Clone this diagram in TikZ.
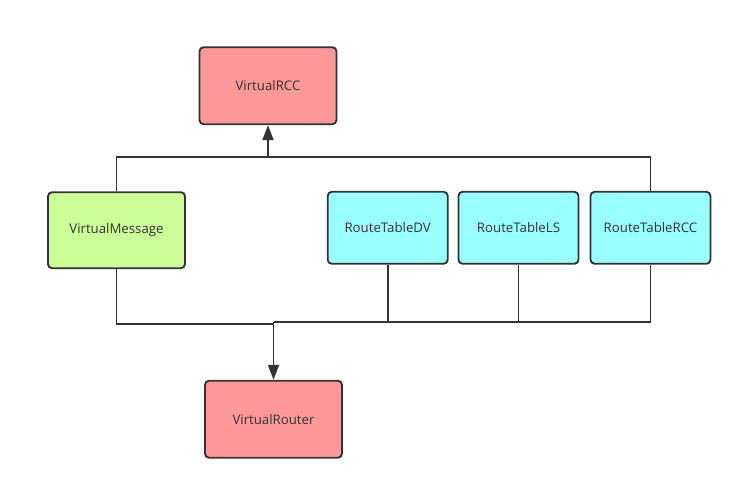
\documentclass[tikz,border=0pt]{standalone}
\usepackage{fontspec}
\setmainfont{Open Sans}
\usetikzlibrary{arrows.meta,shapes}
\definecolor{linegray}{HTML}{333333}
\definecolor{corepink}{HTML}{FF9999}
\definecolor{msggreen}{HTML}{CCFF99}
\definecolor{tabcyan}{HTML}{99FFFF}
\tikzset{
    unitbox/.style={draw=linegray,line width=1.6pt,rounded corners=3.5pt,text=linegray,
        font=\fontsize{11.3}{13}\selectfont,inner sep=0pt},
    corebox/.style={unitbox,fill=corepink,minimum width=4.11cm,minimum height=2.31cm},
    msgbox/.style={unitbox,fill=msggreen,minimum width=4.11cm,minimum height=2.28cm},
    tabbox/.style={unitbox,fill=tabcyan,minimum width=3.6cm,minimum height=2.16cm},
    link/.style={draw=linegray,line width=1.6pt},
    arrowlink/.style={link,-{Triangle[length=0.45cm,width=0.33cm]}}
}

\begin{document}
\begin{tikzpicture}[x=0.03cm,y=-0.03cm]
            \useasboundingbox (0,0) rectangle (743,490);

            \node[corebox] (rcc) at (268,85.7) {VirtualRCC};
            \node[msgbox] (msg) at (116.5,230.2) {VirtualMessage};
            \node[tabbox] (dv) at (387.7,227.8) {RouteTableDV};
            \node[tabbox] (ls) at (518.5,227.8) {RouteTableLS};
            \node[tabbox] (tabrcc) at (650.5,227.8) {RouteTableRCC};
            \node[corebox] (router) at (273.5,419.2) {VirtualRouter};

            \coordinate (topjoin) at (268,157.3);
            \coordinate (msgjoin) at (273.5,324);
            \coordinate (botjoin) at (273.5,322);

            \draw[link] (msg.north) |- (topjoin) -| (tabrcc.north);
            \draw[arrowlink] (topjoin) -- (rcc.south);

            \draw[link] (msg.south) |- (msgjoin);
            \foreach \t in {dv,ls,tabrcc}{
                \draw[link] (\t.south) |- (botjoin);
            }
            \draw[arrowlink] (botjoin) -- (router.north);
        \end{tikzpicture}
\end{document}
